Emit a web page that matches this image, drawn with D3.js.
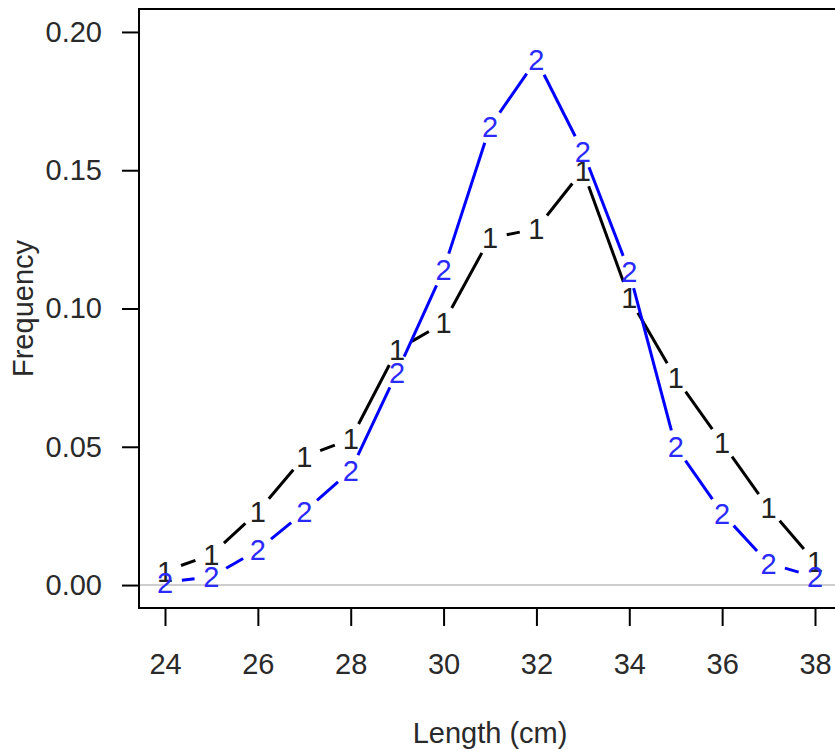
<!DOCTYPE html>
<html>
<head>
<meta charset="utf-8">
<script src="https://cdn.jsdelivr.net/npm/d3@7"></script>
<style>
  html, body { margin: 0; padding: 0; background: #fff; }
  svg { display: block; }
  text { font-family: "Liberation Sans", Arial, Helvetica, sans-serif; }
</style>
</head>
<body>
<svg id="chart" width="835" height="749"></svg>
<script>
// ---- data ----
const lengths = [24, 25, 26, 27, 28, 29, 30, 31, 32, 33, 34, 35, 36, 37, 38];
const series1 = [0.005, 0.011, 0.0265, 0.0464, 0.0528, 0.085, 0.0948, 0.1255, 0.1288, 0.150, 0.1038, 0.0749, 0.0514, 0.0279, 0.0084];
const series2 = [0.001, 0.003, 0.0127, 0.0265, 0.0414, 0.077, 0.114, 0.1658, 0.190, 0.1568, 0.1133, 0.050, 0.026, 0.0078, 0.003];
const xTicks = [24, 26, 28, 30, 32, 34, 36, 38];
const yTicks = [0.00, 0.05, 0.10, 0.15, 0.20];
const seriesLabels = ["1", "2"];
const seriesColors = ["#000000", "#0000ff"];
const xTitle = "Length (cm)";
const yTitle = "Frequency";

// ---- layout ----
const svg = d3.select("#chart");
const mLeft = 139, mRight = 841, mTop = 9, mBottom = 608;
const fontSize = 29;

const x = d3.scaleLinear().domain([23.44, 38.56]).range([mLeft, mRight]);
const y = d3.scaleLinear().domain([-0.0083, 0.2083]).range([mBottom, mTop]);

// horizontal reference line at 0
svg.append("line")
  .attr("x1", mLeft).attr("x2", mRight)
  .attr("y1", y(0)).attr("y2", y(0))
  .attr("stroke", "#bdbdbd").attr("stroke-width", 1.5);

// series: lines with gaps around the point characters (type = "b")
const gap = 17;
[series1, series2].forEach((vals, si) => {
  const g = svg.append("g");
  const pts = lengths.map((L, i) => [x(L), y(vals[i])]);
  for (let i = 0; i < pts.length - 1; i++) {
    const [x0, y0] = pts[i], [x1, y1] = pts[i + 1];
    const dx = x1 - x0, dy = y1 - y0;
    const d = Math.hypot(dx, dy);
    if (d <= 2 * gap) continue;
    const ux = dx / d, uy = dy / d;
    g.append("line")
      .attr("x1", x0 + ux * gap).attr("y1", y0 + uy * gap)
      .attr("x2", x1 - ux * gap).attr("y2", y1 - uy * gap)
      .attr("stroke", seriesColors[si])
      .attr("stroke-width", 3)
      .attr("stroke-linecap", "butt");
  }
  g.selectAll("text.pt")
    .data(lengths.map((L, i) => ({ L, v: vals[i] })))
    .enter().append("text")
    .attr("class", "pt")
    .attr("x", d => x(d.L))
    .attr("y", d => y(d.v))
    .attr("dy", "0.36em")
    .attr("text-anchor", "middle")
    .attr("font-size", fontSize)
    .attr("fill", si === 0 ? "#222" : "#2a2aff")
    .text(seriesLabels[si]);
});

// plot box (right side runs off the image)
svg.append("rect")
  .attr("x", mLeft).attr("y", mTop)
  .attr("width", mRight - mLeft).attr("height", mBottom - mTop)
  .attr("fill", "none").attr("stroke", "#000").attr("stroke-width", 2);

// axes
const yAxis = d3.axisLeft(y).tickValues(yTicks).tickFormat(d3.format(".2f"))
  .tickSize(17).tickPadding(20);
const gy = svg.append("g").attr("transform", `translate(${mLeft},0)`).call(yAxis);
gy.select(".domain").remove();
gy.selectAll(".tick line").attr("stroke", "#000").attr("stroke-width", 2);
gy.selectAll(".tick text").attr("font-size", fontSize).attr("fill", "#2a2a2a")
  .attr("font-family", "'Liberation Sans', Arial, sans-serif");

const xAxis = d3.axisBottom(x).tickValues(xTicks).tickFormat(d3.format("d"))
  .tickSize(18).tickPadding(27);
const gx = svg.append("g").attr("transform", `translate(0,${mBottom})`).call(xAxis);
gx.select(".domain").remove();
gx.selectAll(".tick line").attr("stroke", "#000").attr("stroke-width", 2);
gx.selectAll(".tick text").attr("font-size", fontSize).attr("fill", "#2a2a2a")
  .attr("font-family", "'Liberation Sans', Arial, sans-serif");

// titles
svg.append("text")
  .attr("x", (mLeft + mRight) / 2).attr("y", 743)
  .attr("text-anchor", "middle")
  .attr("font-size", fontSize).attr("fill", "#2a2a2a")
  .text(xTitle);

svg.append("text")
  .attr("transform", `translate(33,${(mTop + mBottom) / 2}) rotate(-90)`)
  .attr("text-anchor", "middle")
  .attr("font-size", fontSize).attr("fill", "#2a2a2a")
  .text(yTitle);
</script>
</body>
</html>
